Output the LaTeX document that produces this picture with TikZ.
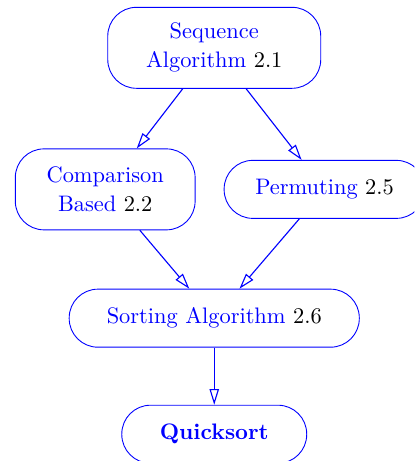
\documentclass[tikz,border=0pt]{standalone}
\usepackage{tikz}
\usetikzlibrary{arrows.meta,positioning}

\begin{document}
\begin{tikzpicture}[
    topic/.style={draw=blue, rounded corners=0.45cm, align=center, text=blue, minimum height=0.91cm},
    topictall/.style={topic, minimum height=1.27cm},
    edge/.style={draw=blue, line width=0.5pt, -{Triangle[open, length=7pt, width=4.2pt]}}
]
    \path[use as bounding box, clip] (0,0) rectangle (6.50,-7.23);

    \node[topictall, minimum width=3.34cm] (seq) at (3.36,-0.75) {Sequence\\[1pt]Algorithm \textcolor{black}{2.1}};
    \node[topictall, minimum width=2.82cm] (comp) at (1.65,-2.97) {Comparison\\[1pt]Based \textcolor{black}{2.2}};
    \node[topic, minimum width=3.15cm] (perm) at (5.09,-2.97) {Permuting \textcolor{black}{2.5}};
    \node[topic, minimum width=4.55cm] (sort) at (3.36,-4.99) {Sorting Algorithm \textcolor{black}{2.6}};
    \node[topic, minimum width=2.90cm, font=\bfseries] (quick) at (3.36,-6.81) {Quicksort};

    \draw[edge] (seq) -- (comp);
    \draw[edge] (seq) -- (perm);
    \draw[edge] (comp) -- (sort);
    \draw[edge] (perm) -- (sort);
    \draw[edge] (sort) -- (quick);
\end{tikzpicture}
\end{document}
